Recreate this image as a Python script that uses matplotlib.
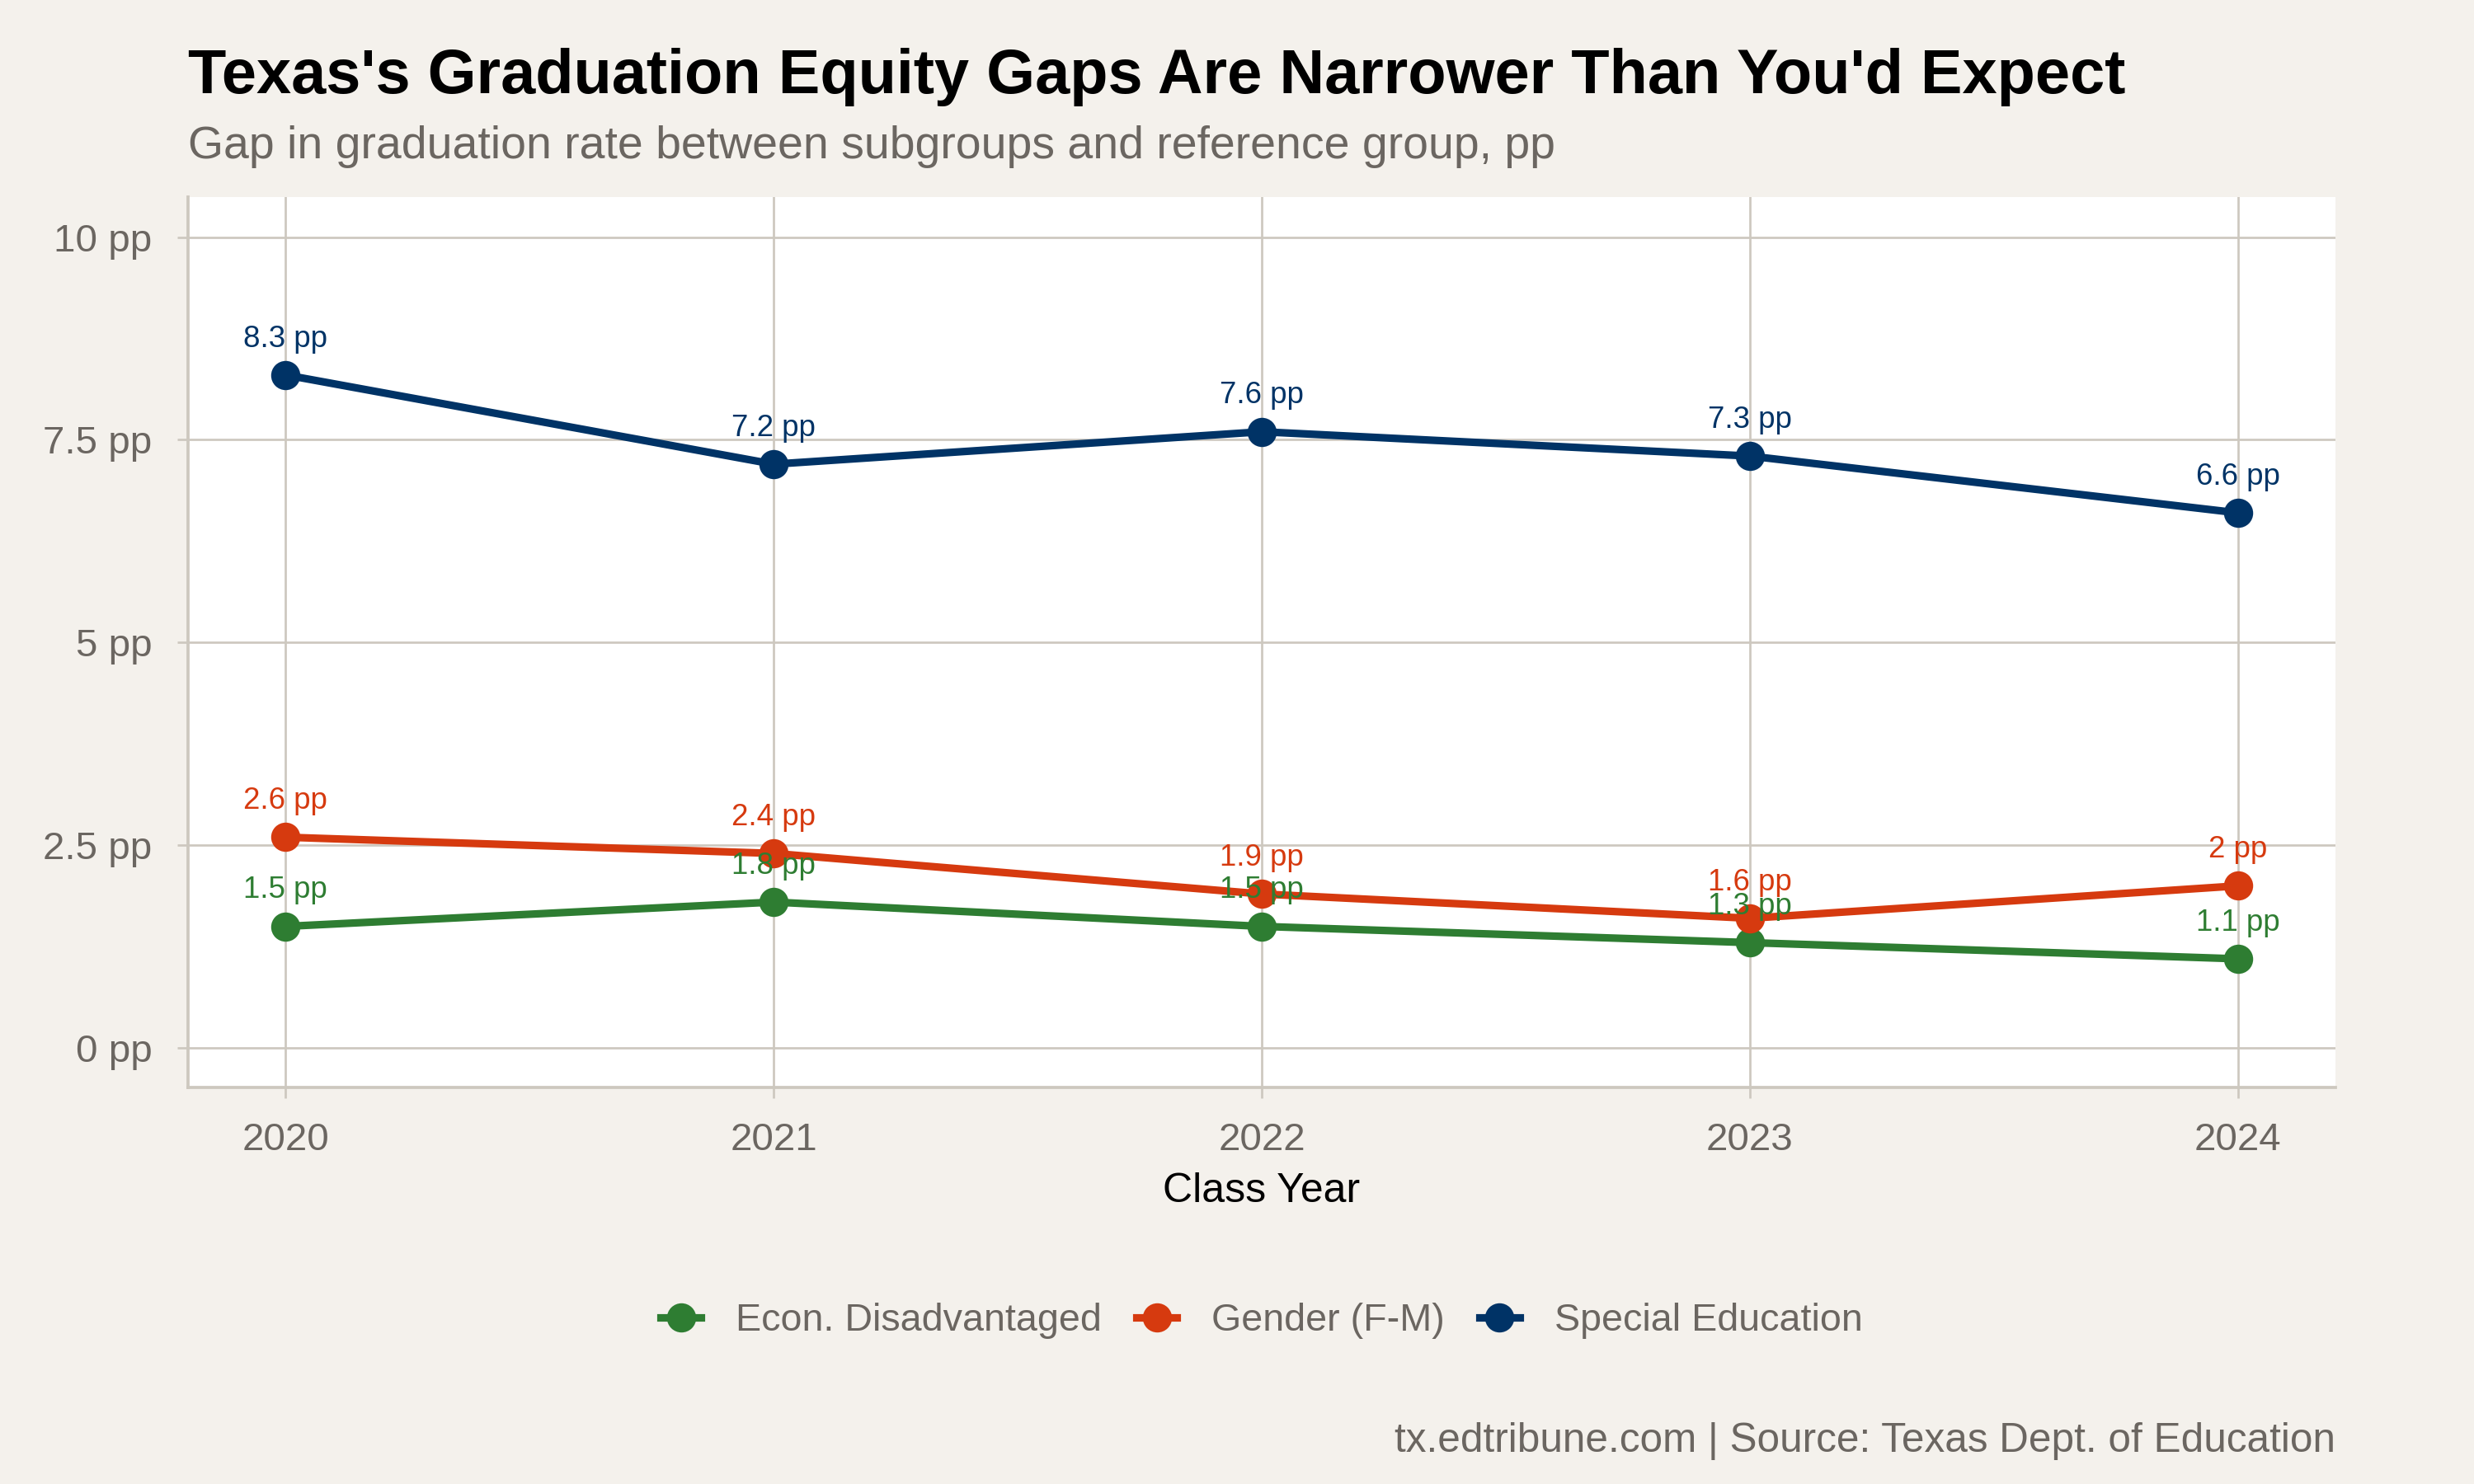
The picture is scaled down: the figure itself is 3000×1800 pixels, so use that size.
import matplotlib
matplotlib.use('Agg')
import matplotlib.pyplot as plt
from matplotlib.lines import Line2D

plt.rcParams['font.family'] = ['Liberation Sans', 'DejaVu Sans']

# data
years = [2020, 2021, 2022, 2023, 2024]
econ = [1.5, 1.8, 1.5, 1.3, 1.1]
gender = [2.6, 2.4, 1.9, 1.6, 2.0]
sped = [8.3, 7.2, 7.6, 7.3, 6.6]
series_names = ['Econ. Disadvantaged', 'Gender (F-M)', 'Special Education']
colors = ['#2e7d32', '#d63a0f', '#003366']
y_ticks = [0, 2.5, 5, 7.5, 10]
y_tick_labels = ['0 pp', '2.5 pp', '5 pp', '7.5 pp', '10 pp']

bg = '#f4f1ec'
grid_c = '#cdc8bf'
txt_gray = '#6b6661'

fig = plt.figure(figsize=(10, 6), dpi=300, facecolor=bg)
ax = fig.add_axes([0.076, 0.267, 0.868, 0.600])
ax.set_facecolor('white')

for vals, name, c in zip([econ, gender, sped], series_names, colors):
    ax.plot(years, vals, color=c, lw=2.2, marker='o', ms=7.5, label=name, zorder=3)
    for x, v in zip(years, vals):
        ax.annotate('%g pp' % v, (x, v), xytext=(0, 10.5), textcoords='offset points',
                    ha='center', va='center', fontsize=8.8, color=c, zorder=4)

ax.set_xlim(2019.8, 2024.2)
ax.set_ylim(-0.49, 10.49)
ax.set_xticks(years)
ax.set_xticklabels([str(y) for y in years])
ax.set_yticks(y_ticks)
ax.set_yticklabels(y_tick_labels)
ax.grid(True, color=grid_c, lw=0.65, zorder=0)
ax.set_axisbelow(True)
for s in ['top', 'right']:
    ax.spines[s].set_visible(False)
for s in ['left', 'bottom']:
    ax.spines[s].set_color(grid_c)
    ax.spines[s].set_linewidth(0.9)
ax.tick_params(colors=grid_c, labelcolor=txt_gray, labelsize=11.4, length=3.2, width=0.65)
ax.tick_params(axis='x', pad=6.8)
ax.tick_params(axis='y', pad=7.2)
ax.set_xlabel('Class Year', fontsize=12, color='black', labelpad=4)

fig.text(0.076, 0.948, "Texas's Graduation Equity Gaps Are Narrower Than You'd Expect",
         fontsize=18.2, fontweight='bold', color='black', va='center', ha='left')
fig.text(0.076, 0.901, 'Gap in graduation rate between subgroups and reference group, pp',
         fontsize=13.3, color=txt_gray, va='center', ha='left')
fig.text(0.944, 0.029, 'tx.edtribune.com | Source: Texas Dept. of Education',
         fontsize=11.9, color=txt_gray, va='center', ha='right')

handles = [Line2D([], [], color=c, lw=2.2, marker='o', ms=7.5) for c in colors]
leg = fig.legend(handles, series_names, loc='center', bbox_to_anchor=(0.51, 0.110),
                 ncol=3, frameon=False, fontsize=11.2, handlelength=1.05,
                 columnspacing=0.9, handletextpad=0.9)
for t in leg.get_texts():
    t.set_color(txt_gray)

fig.savefig('out.png', dpi=300, facecolor=bg)
